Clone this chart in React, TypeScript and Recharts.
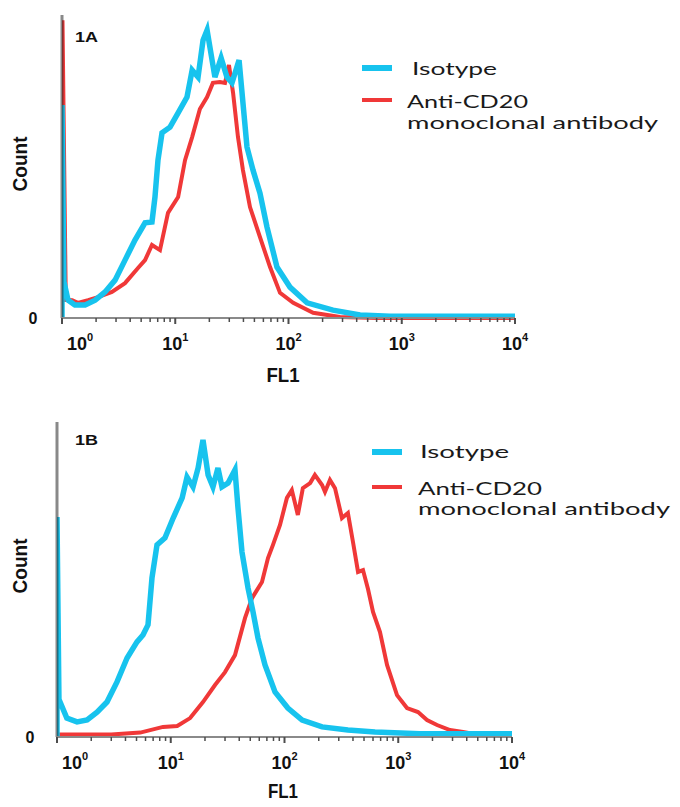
import { Label, Legend, Line, LineChart, ReferenceLine, XAxis, YAxis } from "recharts"

const CYAN = "#17c3ee"
const RED = "#f03838"
const AXIS = "#8a8a8a"

// log axis ticks: every integer step inside each decade, labels only on decades
const FL1_DECADES = [1, 10, 100, 1000]
const FL1_STEPS = [1, 2, 3, 4, 5, 6, 7, 8, 9]
const FL1_TICKS = [...FL1_DECADES.flatMap((d) => FL1_STEPS.map((s) => d * s)), 10000]

// [FL1, count] (count in arbitrary units, 0..1000)
const isotypeA: [number, number][] = [
  [1, 0], [1, 703], [1.04, 120], [1.13, 59], [1.3, 43], [1.6, 43], [1.96, 59], [2.4, 86],
  [2.94, 125], [3.6, 191], [4.41, 257], [5.41, 314], [6.23, 317], [6.62, 399], [7.04, 521],
  [7.64, 611], [8.99, 630], [10.6, 677], [12.7, 729], [14.1, 818], [15.9, 795], [17.6, 917],
  [19.1, 950], [22.4, 795], [25.4, 858], [28.6, 795], [31.7, 776], [36.6, 851], [39.6, 710],
  [43, 564], [48.6, 488], [56, 412], [64.6, 300], [79.1, 168], [103, 102], [146, 50],
  [247, 26], [428, 10], [787, 6], [10000, 6],
]

const antiCd20A: [number, number][] = [
  [1, 0], [1.01, 983], [1.08, 60], [1.23, 59], [1.38, 50], [1.7, 59], [2.08, 69], [2.76, 86],
  [3.6, 115], [4.69, 165], [5.41, 191], [6.23, 241], [7.33, 224], [8.63, 347], [10.6, 399],
  [12.2, 521], [14.1, 597], [16.5, 690], [19.1, 729], [21.5, 776], [24.8, 779], [27.5, 776],
  [29.8, 835], [32.4, 743], [35.8, 597], [39.6, 488], [45.7, 366], [56, 267], [68.7, 168],
  [84.2, 83], [110, 50], [165, 17], [285, 3], [600, 0], [10000, 0],
]

const isotypeB: [number, number][] = [
  [1, 0], [1, 698], [1.04, 120], [1.22, 60], [1.5, 48], [1.84, 54], [2.25, 79], [2.75, 111],
  [3.37, 175], [4.13, 251], [5.05, 302], [5.7, 324], [6.31, 356], [6.84, 505], [7.57, 610],
  [8.9, 632], [10.5, 695], [12.6, 759], [13.9, 825], [15.7, 794], [17.4, 854], [19.2, 943],
  [21.3, 832], [23.5, 794], [26, 854], [28.2, 794], [31.9, 806], [36.7, 848], [39, 727],
  [42.3, 587], [47.8, 473], [52.9, 397], [58.5, 314], [67.4, 229], [82.5, 143], [107, 92],
  [143, 54], [214, 32], [361, 22], [625, 16], [1550, 10], [10000, 10],
]

const antiCd20B: [number, number][] = [
  [1, 8], [3, 8], [5.4, 14], [8.55, 32], [11.4, 35], [14.8, 60], [19.2, 111], [24.5, 165],
  [30, 206], [36.7, 260], [45, 378], [51.8, 441], [63.4, 492], [71.6, 568], [79.2, 610],
  [91.3, 673], [105, 759], [116, 784], [131, 705], [145, 790], [168, 806], [185, 832],
  [214, 800], [227, 778], [251, 816], [278, 790], [320, 695], [361, 711], [400, 619],
  [443, 524], [490, 530], [542, 470], [600, 397], [691, 333], [797, 229], [975, 133],
  [1194, 92], [1492, 79], [1790, 54], [2192, 38], [2851, 22], [3710, 16], [4273, 12],
]

const toRows = (pts: [number, number][]) => pts.map(([fl1, count]) => ({ fl1, count }))

const BOLD = "'Liberation Sans', Arial, sans-serif"
const SANS = "Lato, 'Open Sans', sans-serif"

function Fl1Tick(props: any) {
  const { x, y, payload } = props
  const v = payload.value as number
  const e = Math.log10(v)
  const major = Math.abs(e - Math.round(e)) < 1e-6
  return (
    <g>
      <line x1={x} x2={x} y1={y} y2={y + (major ? 6 : 4)} stroke="#4d4d4d" strokeWidth={major ? 2 : 1.5} />
      {major && (
        <text
          x={x + (v === 1 ? 18 : 0)}
          y={y + 32}
          textAnchor="middle"
          fontFamily={BOLD}
          fontWeight="bold"
          fontSize={18}
          fill="#111"
        >
          10
          <tspan dy={-9} fontSize={11}>
            {Math.round(e)}
          </tspan>
        </text>
      )}
    </g>
  )
}

interface LegendLayout {
  isoX: number
  isoY: number
  isoW: number
  antiX: number
  antiY: number
  antiW: number
  monoY: number
  monoW: number
  redY: number
  cyanY: number
}

function PanelLegend({ l }: { l: LegendLayout }) {
  return (
    <svg width={320} height={100} style={{ display: "block", overflow: "visible" }}>
      <line x1={7} x2={37} y1={l.cyanY} y2={l.cyanY} stroke={CYAN} strokeWidth={6} />
      <line x1={7} x2={37} y1={l.redY} y2={l.redY} stroke={RED} strokeWidth={4} />
      <g fontFamily={SANS} fontSize={17} fill="#1a1a1a">
        <text x={l.isoX} y={l.isoY} textLength={l.isoW} lengthAdjust="spacingAndGlyphs">
          Isotype
        </text>
        <text x={l.antiX} y={l.antiY} textLength={l.antiW} lengthAdjust="spacingAndGlyphs">
          Anti-CD20
        </text>
        <text x={l.antiX} y={l.monoY} textLength={l.monoW} lengthAdjust="spacingAndGlyphs">
          monoclonal antibody
        </text>
      </g>
    </svg>
  )
}

interface PanelProps {
  tag: string
  iso: [number, number][]
  anti: [number, number][]
  top: number
  height: number
  margin: { top: number; right: number; bottom: number; left: number }
  zeroX: number
  countY: number
  tagY: number
  fl1Y: number
  fl1W: number
  legendLeft: number
  legendTop: number
  legend: LegendLayout
}

function Panel(p: PanelProps) {
  return (
    <div style={{ position: "absolute", left: 0, top: p.top }}>
      <LineChart width={680} height={p.height} margin={p.margin}>
        <XAxis
          type="number"
          dataKey="fl1"
          scale="log"
          domain={[1, 10000]}
          allowDataOverflow
          ticks={FL1_TICKS}
          interval={0}
          height={30}
          tickSize={0}
          tickMargin={0}
          tickLine={false}
          axisLine={{ stroke: AXIS, strokeWidth: 2 }}
          tick={<Fl1Tick />}
        >
          <Label
            content={() => (
              <text
                x={283}
                y={p.fl1Y}
                textAnchor="middle"
                fontFamily={BOLD}
                fontWeight="bold"
                fontSize={20}
                fill="#111"
                textLength={p.fl1W}
                lengthAdjust="spacingAndGlyphs"
              >
                FL1
              </text>
            )}
          />
        </XAxis>
        <YAxis
          type="number"
          dataKey="count"
          domain={[0, 1000]}
          ticks={[0]}
          width={10}
          axisLine={false}
          tickLine={false}
          tick={(t: any) => (
            <text
              x={p.zeroX}
              y={t.y + 6}
              textAnchor="middle"
              fontFamily={BOLD}
              fontWeight="bold"
              fontSize={16}
              fill="#111"
            >
              0
            </text>
          )}
        >
          <Label
            content={() => (
              <text
                x={20}
                y={p.countY}
                transform={`rotate(-90 20 ${p.countY})`}
                dy={7}
                textAnchor="middle"
                fontFamily={BOLD}
                fontWeight="bold"
                fontSize={21}
                fill="#111"
                textLength={55}
                lengthAdjust="spacingAndGlyphs"
              >
                Count
              </text>
            )}
          />
          <Label
            content={() => (
              <text
                x={75}
                y={p.tagY}
                fontFamily={BOLD}
                fontWeight="bold"
                fontSize={14}
                fill="#111"
                textLength={23}
                lengthAdjust="spacingAndGlyphs"
              >
                {p.tag}
              </text>
            )}
          />
        </YAxis>
        <Legend
          layout="horizontal"
          verticalAlign="middle"
          align="center"
          wrapperStyle={{ left: p.legendLeft, top: p.legendTop, width: 320 }}
          content={() => <PanelLegend l={p.legend} />}
        />
        <Line
          data={toRows(p.anti)}
          dataKey="count"
          name="Anti-CD20 monoclonal antibody"
          type="linear"
          stroke={RED}
          strokeWidth={4}
          dot={false}
          activeDot={false}
          isAnimationActive={false}
        />
        <Line
          data={toRows(p.iso)}
          dataKey="count"
          name="Isotype"
          type="linear"
          stroke={CYAN}
          strokeWidth={5.5}
          dot={false}
          activeDot={false}
          isAnimationActive={false}
        />
        <ReferenceLine x={1} stroke="rgba(40,40,40,0.55)" strokeWidth={3} />
      </LineChart>
    </div>
  )
}

export default function App() {
  return (
    <div style={{ position: "absolute", left: 0, top: 0, width: 680, height: 807, background: "#fff" }}>
      <Panel
        tag="1A"
        iso={isotypeA}
        anti={antiCd20A}
        top={0}
        height={400}
        margin={{ top: 15, right: 165, bottom: 52, left: 52 }}
        zeroX={33}
        countY={164}
        tagY={42}
        fl1Y={382}
        fl1W={33}
        legendLeft={355}
        legendTop={50}
        legend={{
          cyanY: 18, isoX: 57, isoY: 25, isoW: 85,
          redY: 50, antiX: 52, antiY: 58, antiW: 121, monoY: 79, monoW: 251,
        }}
      />
      <Panel
        tag="1B"
        iso={isotypeB}
        anti={antiCd20B}
        top={405}
        height={402}
        margin={{ top: 17, right: 168, bottom: 40, left: 47 }}
        zeroX={30}
        countY={161}
        tagY={40}
        fl1Y={393}
        fl1W={30}
        legendLeft={365}
        legendTop={30}
        legend={{
          cyanY: 17, isoX: 55, isoY: 23, isoW: 89,
          redY: 52, antiX: 53, antiY: 60, antiW: 124, monoY: 80, monoW: 252,
        }}
      />
    </div>
  )
}
